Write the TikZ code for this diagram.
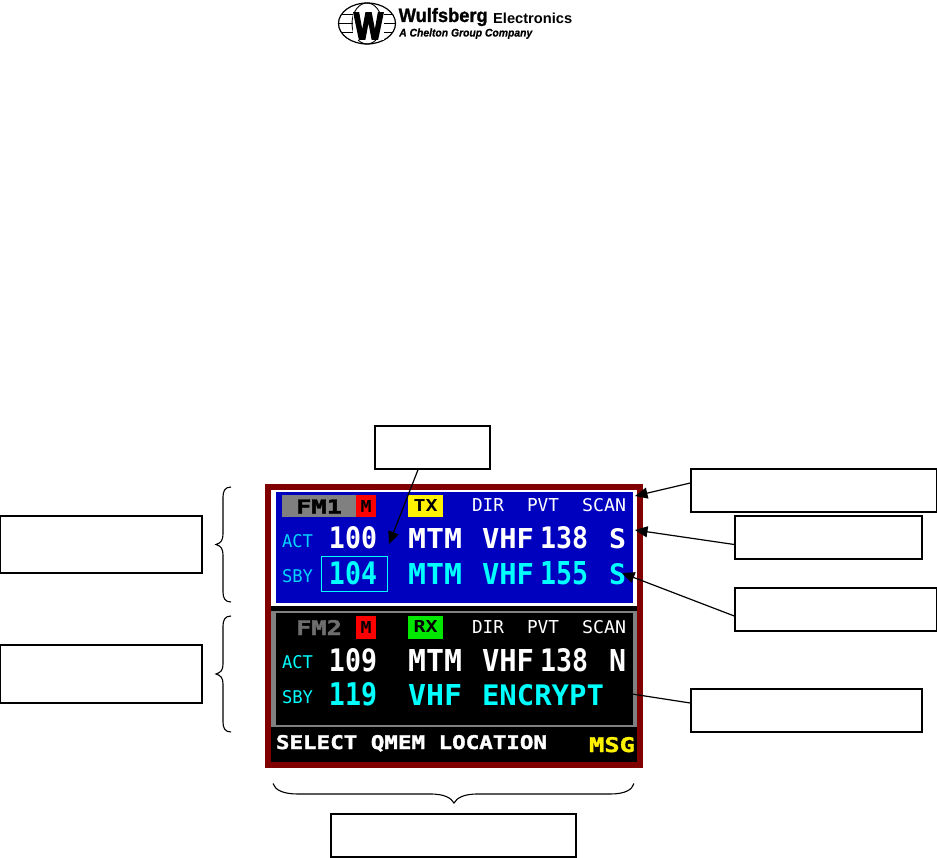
\documentclass[tikz,border=0pt]{standalone}
\usepackage{fontspec}
\usepackage{graphicx}
\usetikzlibrary{arrows.meta}
\setmainfont{Liberation Sans}
\newfontfamily\dmono{DejaVu Sans Mono}
\newfontfamily\dheavy{DejaVu Sans Mono Bold}[FakeBold=1.6]
\newfontfamily\lheavy{Liberation Sans Bold}[FakeBold=5]
\newfontfamily\lmid{Liberation Sans Bold}[FakeBold=1.2]
\newfontfamily\lital{Liberation Sans Bold Italic}[FakeBold=0.6]
\definecolor{frame}{HTML}{800000}
\definecolor{panelblue}{HTML}{0000BF}
\definecolor{cya}{HTML}{00FFFF}
\definecolor{lcya}{HTML}{00D8FF}
\definecolor{grayp}{HTML}{808080}
\definecolor{grayf}{HTML}{6E6E6E}
\definecolor{grn}{HTML}{00E800}
% \fitted{width}{height}{text}: text stretched to an exact box, depth dropped
\newcommand{\fitted}[3]{\resizebox{#1pt}{#2pt}{\raisebox{0pt}[\height][0pt]{#3}}}
\tikzset{
  x=1pt,y=-1pt,
  callout/.style={draw=black,line width=1.5pt,fill=white,inner sep=0pt},
  pointer/.style={draw=black,line width=1.2pt,-{Triangle[length=12.5pt,width=11pt]}},
  plainline/.style={draw=black,line width=1.2pt},
  bracepath/.style={draw=black,line width=1.1pt},
  txt/.style={inner sep=0pt,outer sep=0pt,anchor=center,font=\dmono\bfseries},
  heavy txt/.style={inner sep=0pt,outer sep=0pt,anchor=center,font=\dheavy},
  thin txt/.style={inner sep=0pt,outer sep=0pt,anchor=center,font=\dmono},
}
\begin{document}
\begin{tikzpicture}
\useasboundingbox (0,0) rectangle (937,858);
\fill[white] (0,0) rectangle (937,858);

% ---- logo
\draw[black,line width=1.2pt] (367,23.5) ellipse [x radius=28.5,y radius=20.5];
\draw[black,line width=.9pt] (367,23.5) ellipse [x radius=15,y radius=20.5];
\draw[black,line width=.9pt] (341,14.5)--(393,14.5) (339,23.5)--(395,23.5) (341,32.5)--(393,32.5);
\node[inner sep=.6pt,text=black,fill=white] (logoW) at (368.5,26) {\fitted{29}{26}{\lheavy W}};
\node[inner sep=0pt,anchor=base west] (logoA) at (398.5,22) {\fitted{89}{14}{\lmid Wulfsberg}};
\node[inner sep=0pt,anchor=base west] (logoB) at (493,24) {\fitted{79}{10.5}{\bfseries Electronics}};
\node[inner sep=0pt,anchor=base west] (logoC) at (399,36.5) {\fitted{133}{8}{\lital A Chelton Group Company}};

% ---- display frame
\fill[frame] (265,484) rectangle (643,768);
\fill[black] (271,490) rectangle (637,762);
\fill[white] (271,490) rectangle (637,606);
\fill[panelblue] (275.5,491.7) rectangle (632.5,603.3);
\fill[grayp] (271,610.7) rectangle (637,727);
\fill[black] (275.5,613) rectangle (632.5,725);

% ---- upper panel
\fill[grayp] (282,495) rectangle (356,517);
\fill[red] (356,495) rectangle (376,517);
\fill[yellow] (408,495) rectangle (443,517);
\node[heavy txt,text=black] (fm1) at (319,506.5) {\fitted{46}{14}{FM1}};
\node[txt,text=black] (m1) at (366,506.5) {\fitted{11}{12}{M}};
\node[txt,text=black] (tx) at (425.5,505) {\fitted{24}{12}{TX}};
\node[thin txt,text=white] (dir1) at (488,504.5) {\fitted{32}{13}{DIR}};
\node[thin txt,text=white] (pvt1) at (543,504.5) {\fitted{32}{13}{PVT}};
\node[thin txt,text=white] (scan1) at (604,504.5) {\fitted{44}{13}{SCAN}};
\node[thin txt,text=lcya] (act1) at (297.5,540.5) {\fitted{31}{13}{ACT}};
\node[txt,text=white] (n100) at (353,537) {\fitted{48}{22}{100}};
\node[txt,text=white] (mtm1) at (435,538) {\fitted{54}{20}{MTM}};
\node[txt,text=white] (vhf1) at (508,538) {\fitted{52}{20}{VHF}};
\node[txt,text=white] (n138) at (564,537) {\fitted{48}{22}{138}};
\node[txt,text=white] (s1) at (617.5,538) {\fitted{17}{20}{S}};
\node[thin txt,text=lcya] (sby1) at (297.5,575.5) {\fitted{31}{13}{SBY}};
\draw[cya,line width=1.9pt] (321.5,556.5) rectangle (387.5,591.5);
\node[txt,text=cya] (n104) at (353,572.5) {\fitted{48}{23}{104}};
\node[txt,text=cya] (mtm2) at (435,573.5) {\fitted{54}{21}{MTM}};
\node[txt,text=cya] (vhf2) at (508,573.5) {\fitted{52}{21}{VHF}};
\node[txt,text=cya] (n155) at (564,572.5) {\fitted{48}{23}{155}};
\node[txt,text=cya] (s2) at (617.5,573.5) {\fitted{17}{21}{S}};

% ---- lower panel
\fill[red] (356,616) rectangle (376,639);
\fill[grn] (408,616) rectangle (443,639);
\node[heavy txt,text=grayf] (fm2) at (319,627.5) {\fitted{46}{15}{FM2}};
\node[txt,text=black] (m2) at (366,627.5) {\fitted{11}{12}{M}};
\node[txt,text=black] (rx) at (425.5,626) {\fitted{24}{12}{RX}};
\node[thin txt,text=white] (dir2) at (488,627) {\fitted{32}{13}{DIR}};
\node[thin txt,text=white] (pvt2) at (543,627) {\fitted{32}{13}{PVT}};
\node[thin txt,text=white] (scan2) at (604,627) {\fitted{44}{13}{SCAN}};
\node[thin txt,text=cya] (act2) at (297.5,662) {\fitted{31}{13}{ACT}};
\node[txt,text=white] (n109) at (353,659.5) {\fitted{48}{23}{109}};
\node[txt,text=white] (mtm3) at (435,660) {\fitted{54}{22}{MTM}};
\node[txt,text=white] (vhf3) at (508,660) {\fitted{52}{22}{VHF}};
\node[txt,text=white] (n138b) at (564,659.5) {\fitted{48}{23}{138}};
\node[txt,text=white] (n1) at (617.5,660) {\fitted{17}{22}{N}};
\node[thin txt,text=cya] (sby2) at (297.5,697) {\fitted{31}{13}{SBY}};
\node[txt,text=cya] (n119) at (353,694) {\fitted{48}{23}{119}};
\node[txt,text=cya] (vhf4) at (435,695) {\fitted{54}{21}{VHF}};
\node[txt,text=cya] (encr) at (543,695) {\fitted{122}{21}{ENCRYPT}};

% ---- message line
\node[heavy txt,text=white] (sel) at (411.5,742) {\fitted{271}{14}{SELECT QMEM LOCATION}};
\node[heavy txt,text=yellow] (msg) at (612,744.5) {\fitted{46}{15}{MSG}};

% ---- callout boxes (empty)
\node[callout,minimum width=115pt,minimum height=43pt] (boxT) at (432.5,447.5) {};
\node[callout,minimum width=246pt,minimum height=43pt] (boxA) at (814,490.5) {};
\node[callout,minimum width=187pt,minimum height=43pt] (boxB) at (828.5,537.5) {};
\node[callout,minimum width=202pt,minimum height=43pt] (boxC) at (836,609.5) {};
\node[callout,minimum width=231pt,minimum height=43pt] (boxD) at (806.5,710.5) {};
\node[callout,minimum width=202pt,minimum height=57pt] (boxE) at (101,544.5) {};
\node[callout,minimum width=202pt,minimum height=58pt] (boxF) at (101,674) {};
\node[callout,line width=1.2pt,minimum width=245pt,minimum height=43pt] (boxG) at (453.5,835.5) {};

% ---- connector targets
\coordinate (tT) at (389,544);
\coordinate (tA) at (635,496);
\coordinate (tB) at (635,530);
\coordinate (tC) at (622,573);
\coordinate (tD) at (632,694);

\draw[pointer] ([xshift=-14.5pt]boxT.south) -- (tT);
\draw[pointer] ([yshift=7.5pt]boxA.west) -- (tA);
\draw[pointer] ([yshift=-7pt]boxB.west) -- (tB);
\draw[pointer] ([yshift=-6.5pt]boxC.west) -- (tC);
\draw[plainline] ([yshift=7.5pt]boxD.west) -- (tD);

% ---- braces
\draw[bracepath] (231,487) .. controls (225,487) and (223,491) .. (223,497)
  -- (223,534) .. controls (223,540) and (221,543) .. (216,544.5)
  .. controls (221,546) and (223,549) .. (223,555)
  -- (223,592) .. controls (223,598) and (225,602) .. (231,602);
\draw[bracepath] (231,616) .. controls (225,616) and (223,620) .. (223,626)
  -- (223,664) .. controls (223,670) and (221,672.5) .. (216,674)
  .. controls (221,675.5) and (223,678) .. (223,684)
  -- (223,722) .. controls (223,728) and (225,732) .. (231,732);
\draw[bracepath] (273,783.5) .. controls (275,790) and (283,794) .. (298,794)
  -- (430,794) .. controls (445,794) and (451,798) .. (454,803)
  .. controls (457,798) and (463,794) .. (478,794)
  -- (610,794) .. controls (625,794) and (632,790) .. (634,783.5);
\end{tikzpicture}
\end{document}
